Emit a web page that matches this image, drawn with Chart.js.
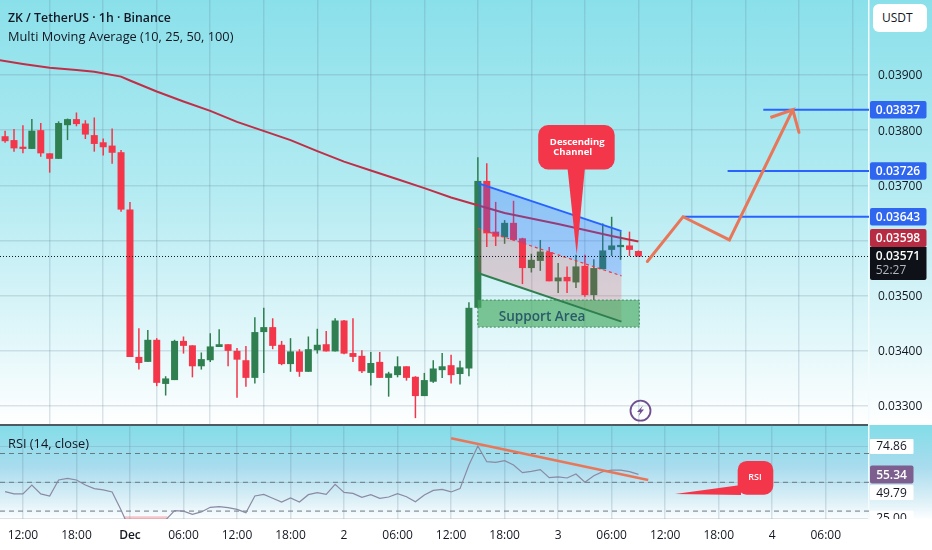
<!DOCTYPE html>
<html>
<head>
<meta charset="utf-8">
<title>ZK / TetherUS</title>
<script src="https://cdn.jsdelivr.net/npm/chart.js@4"></script>
<style>
  html, body { margin: 0; padding: 0; background: #fff; overflow: hidden; }
  #stage { position: relative; width: 932px; height: 550px; font-family: "Open Sans", sans-serif; color: #131722; }
  #stage canvas { position: absolute; left: 0; }
  #pricePane { position: absolute; left: 0; top: 0; width: 932px; height: 425px;
    background: linear-gradient(#8ae0ea 0%, #b4ebf2 45%, #e2f7fa 80%, #fff 100%); }
  #rsiPane { position: absolute; left: 0; top: 425px; width: 932px; height: 94px;
    background: linear-gradient(#82dde8 0%, #a9dcee 45%, #dcf0f7 80%, #fcfeff 100%); }
  #sep { position: absolute; left: 0; top: 424px; width: 869px; height: 2px; background: #4c5a63; }
  .label { position: absolute; white-space: nowrap; }
  #title { left: 8px; top: 9px; font-size: 12.3px; font-weight: 600; }
  #subtitle { left: 8px; top: 27px; font-size: 12.8px; }
  #rsiTitle { left: 8px; top: 434px; font-size: 12.8px; }
  #currency { left: 873px; top: 4px; width: 54px; height: 28px; line-height: 28px; background: #fff;
    border-radius: 6px; font-size: 12px; text-indent: 9px; }
</style>
</head>
<body>
<div id="stage">
  <div id="pricePane"></div>
  <div id="rsiPane"></div>
  <div id="sep"></div>
  <canvas id="priceChart" width="932" height="424" style="top:0"></canvas>
  <canvas id="rsiChart" width="932" height="126" style="top:424px"></canvas>
  <div class="label" id="title">ZK / TetherUS · 1h · Binance</div>
  <div class="label" id="subtitle">Multi Moving Average (10, 25, 50, 100)</div>
  <div class="label" id="rsiTitle">RSI (14, close)</div>
  <div class="label" id="currency">USDT</div>
</div>
<script>
// Hours are counted from Dec 1 00:00
const firstHour = -14;
const tickHours = [-12, -6, 0, 6, 12, 18, 24, 30, 36, 42, 48, 54, 60, 66, 72, 78];
const timeLabels = ['12:00', '18:00', 'Dec', '06:00', '12:00', '18:00', '2', '06:00', '12:00', '18:00', '3', '06:00', '12:00', '18:00', '4', '06:00'];
const priceTicks = [0.033, 0.034, 0.035, 0.036, 0.037, 0.038, 0.039];
const priceTickLabels = ['0.03300', '0.03400', '0.03500', '', '0.03700', '0.03800', '0.03900'];

const opens = [0.03789, 0.03782, 0.03770, 0.03766, 0.03800, 0.03758, 0.03748, 0.03809, 0.03820, 0.03812, 0.03791, 0.03778, 0.03772, 0.03760, 0.03656, 0.03389, 0.03380, 0.03420, 0.03340, 0.03347, 0.03418, 0.03410, 0.03372, 0.03383, 0.03407, 0.03412, 0.03400, 0.03383, 0.03351, 0.03434, 0.03443, 0.03411, 0.03376, 0.03399, 0.03362, 0.03401, 0.03412, 0.03399, 0.03455, 0.03396, 0.03391, 0.03360, 0.03380, 0.03351, 0.03356, 0.03372, 0.03353, 0.03318, 0.03344, 0.03365, 0.03374, 0.03358, 0.03368, 0.03478, 0.03708, 0.03616, 0.03606, 0.03632, 0.03604, 0.03550, 0.03563, 0.03579, 0.03526, 0.03534, 0.03524, 0.03554, 0.03501, 0.03548, 0.03583, 0.03588, 0.03591, 0.03581];
const highs = [0.03799, 0.03802, 0.03809, 0.03820, 0.03813, 0.03758, 0.03816, 0.03821, 0.03832, 0.03818, 0.03823, 0.03785, 0.03803, 0.03764, 0.03670, 0.03441, 0.03438, 0.03423, 0.03354, 0.03420, 0.03426, 0.03410, 0.03397, 0.03432, 0.03439, 0.03412, 0.03405, 0.03409, 0.03461, 0.03478, 0.03459, 0.03418, 0.03423, 0.03403, 0.03426, 0.03440, 0.03436, 0.03459, 0.03456, 0.03459, 0.03401, 0.03398, 0.03398, 0.03362, 0.03390, 0.03372, 0.03354, 0.03360, 0.03383, 0.03396, 0.03393, 0.03382, 0.03488, 0.03751, 0.03740, 0.03670, 0.03637, 0.03672, 0.03605, 0.03576, 0.03601, 0.03588, 0.03559, 0.03553, 0.03574, 0.03574, 0.03566, 0.03631, 0.03643, 0.03616, 0.03616, 0.03582];
const lows = [0.03777, 0.03761, 0.03758, 0.03766, 0.03752, 0.03723, 0.03748, 0.03782, 0.03807, 0.03784, 0.03761, 0.03754, 0.03739, 0.03652, 0.03389, 0.03366, 0.03380, 0.03336, 0.03319, 0.03347, 0.03395, 0.03352, 0.03366, 0.03380, 0.03407, 0.03372, 0.03315, 0.03335, 0.03341, 0.03360, 0.03403, 0.03374, 0.03362, 0.03353, 0.03362, 0.03395, 0.03399, 0.03399, 0.03394, 0.03380, 0.03360, 0.03337, 0.03351, 0.03317, 0.03352, 0.03346, 0.03278, 0.03318, 0.03342, 0.03351, 0.03341, 0.03339, 0.03354, 0.03478, 0.03588, 0.03590, 0.03594, 0.03601, 0.03521, 0.03542, 0.03545, 0.03526, 0.03505, 0.03505, 0.03514, 0.03498, 0.03492, 0.03548, 0.03572, 0.03565, 0.03572, 0.03571];
const closes = [0.03780, 0.03767, 0.03766, 0.03799, 0.03758, 0.03748, 0.03813, 0.03820, 0.03811, 0.03792, 0.03775, 0.03769, 0.03759, 0.03656, 0.03389, 0.03378, 0.03420, 0.03342, 0.03350, 0.03418, 0.03409, 0.03372, 0.03385, 0.03408, 0.03412, 0.03400, 0.03384, 0.03351, 0.03434, 0.03443, 0.03409, 0.03376, 0.03399, 0.03362, 0.03403, 0.03411, 0.03399, 0.03455, 0.03395, 0.03389, 0.03363, 0.03378, 0.03351, 0.03359, 0.03372, 0.03351, 0.03318, 0.03347, 0.03368, 0.03372, 0.03356, 0.03370, 0.03478, 0.03708, 0.03613, 0.03607, 0.03632, 0.03601, 0.03550, 0.03565, 0.03580, 0.03526, 0.03533, 0.03526, 0.03553, 0.03501, 0.03550, 0.03582, 0.03591, 0.03592, 0.03583, 0.03571];

const maHours = [-15, -12, -9, -6, -4, -1, 0, 3, 6, 9, 12, 18, 21, 24, 27, 30, 33, 36, 38.5, 42, 48, 54, 57];
const maValues = [0.03928, 0.03920, 0.03913, 0.03909, 0.03906, 0.03897, 0.03890, 0.03870, 0.03852, 0.03835, 0.03815, 0.03782, 0.03762, 0.03743, 0.03727, 0.03711, 0.03695, 0.03678, 0.03666, 0.03650, 0.03630, 0.03608, 0.03598];

const rsiValues = [43.5, 41.9, 41.9, 48.1, 41.9, 40.5, 51.6, 52.7, 51.6, 48.1, 45.6, 44.7, 43.3, 30.8, 16.9, 14.0, 18.0, 21.0, 23.8, 30.3, 30.0, 27.7, 29.4, 32.6, 33.1, 32.4, 31.2, 28.9, 40.5, 41.6, 38.9, 36.3, 39.1, 36.3, 41.4, 42.8, 41.6, 48.6, 43.0, 42.3, 39.6, 41.4, 38.9, 39.8, 42.1, 40.0, 36.5, 41.2, 44.4, 45.1, 43.3, 45.6, 62.0, 75.2, 64.3, 63.9, 65.0, 62.0, 56.7, 57.6, 58.8, 53.2, 53.7, 53.0, 55.8, 50.0, 54.6, 57.4, 58.5, 58.5, 57.4, 55.5];
const rsiLevels = [70, 50, 30];
const rsiGridTicks = [25, 50, 75];

// Drawn tools on the price pane
const channelHours = [39, 55.1];
const channelTop = [0.03704, 0.03617];
const channelMid = [0.03622, 0.03536];
const channelBottom = [0.03541, 0.03453];
const supportHours = [39, 57.1];
const supportPrices = [0.03492, 0.03443];
const forecastHours = [58, 62, 67.2, 74.3, 71.8, 74.3, 75];
const forecastPrices = [0.03562, 0.03643, 0.03601, 0.03837, 0.03823, 0.03837, 0.03796];
const levelHours = [71, 67, 62];
const levelPrices = [0.03837, 0.03726, 0.03643];
const maLast = 0.03598;
const lastPrice = 0.03571;
const countdown = '52:27';
const rsiTrendHours = [36, 58.1];
const rsiTrendValues = [80.6, 51.6];
const rsiLabels = ['74.86', '49.79', '25.00'];
const rsiLabelValues = [74.86, 49.79, 25];
const rsiLast = 55.34;

const xMin = -14.57;
const xMax = 82.85;
const hours = opens.map((_, i) => firstHour + i);
const green = '#2f7f50';
const red = '#f4364a';
const candleColors = opens.map((o, i) => closes[i] >= o ? green : red);
const axisFont = { family: 'Open Sans', size: 12 };

const pts = (xs, ys) => xs.map((x, i) => ({ x, y: ys[i] }));
const polygon = (xs, upper, lower) => [
    { x: xs[0], y: upper[0] }, { x: xs[1], y: upper[1] },
    { x: xs[1], y: lower[1] }, { x: xs[0], y: lower[0] }, { x: xs[0], y: upper[0] }
];
const lineDs = (data, color, width, order, extra = {}) => ({
    type: 'line', data, borderColor: color, borderWidth: width, order,
    pointRadius: 0, tension: 0, fill: false, ...extra
});

const xScale = (showLabels) => ({
    type: 'linear', min: xMin, max: xMax, offset: false,
    afterBuildTicks: s => { s.ticks = tickHours.map(value => ({ value })); },
    afterFit: s => { s.paddingLeft = 0; s.paddingRight = 0; if (showLabels) s.height = 31; },
    grid: { color: 'rgba(90,120,145,0.2)', lineWidth: 1.5, drawTicks: false },
    border: { display: false },
    ticks: {
        display: showLabels, autoSkip: false, maxRotation: 0, padding: 9, color: '#131722',
        font: c => ({ ...axisFont, weight: c.index === 2 ? '600' : '400' }),
        callback: v => timeLabels[tickHours.indexOf(v)]
    }
});

function roundBox(ctx, x, y, w, h, r, color) {
    ctx.fillStyle = color;
    ctx.beginPath();
    ctx.roundRect(x, y, w, h, r);
    ctx.fill();
}

function tag(ctx, y, h, color, text, textColor) {
    roundBox(ctx, 870, y - h / 2, 56.5, h, 2, color);
    ctx.fillStyle = textColor;
    ctx.font = '600 12px "Open Sans"';
    ctx.textAlign = 'center';
    ctx.textBaseline = 'middle';
    ctx.fillText(text, 898, y + 0.5);
}

// Callouts, price tags and the alert icon on top of the price pane
const priceOverlay = {
    id: 'priceOverlay',
    afterDraw(chart) {
        const { ctx, scales: { x, y } } = chart;
        ctx.save();

        ctx.fillStyle = '#2b5a6a';
        ctx.font = '600 13.6px "Open Sans"';
        ctx.textAlign = 'center';
        ctx.textBaseline = 'middle';
        ctx.fillText('Support Area', x.getPixelForValue(46.2), y.getPixelForValue(0.03462));

        // Descending Channel callout, anchored on its tip
        const tipX = x.getPixelForValue(50.08);
        const tipY = y.getPixelForValue(0.03574);
        ctx.fillStyle = red;
        ctx.beginPath();
        ctx.moveTo(tipX - 9.5, 165);
        ctx.lineTo(tipX, tipY);
        ctx.lineTo(tipX + 8.5, 165);
        ctx.closePath();
        ctx.fill();
        roundBox(ctx, tipX - 38.5, 125, 76.5, 44.5, 10, red);
        ctx.fillStyle = '#fff';
        ctx.font = '700 9.5px "Open Sans"';
        ctx.fillText('Descending', tipX + 0.5, 142);
        ctx.fillText('Channel', tipX - 4, 152);

        // Alert icon
        ctx.strokeStyle = '#6f4f8f';
        ctx.lineWidth = 1.8;
        ctx.beginPath();
        ctx.arc(640.5, 410.7, 10, 0, Math.PI * 2);
        ctx.stroke();
        ctx.fillStyle = '#6f4f8f';
        ctx.beginPath();
        ctx.moveTo(643, 405.5); ctx.lineTo(637, 412); ctx.lineTo(640.2, 412);
        ctx.lineTo(638.5, 416); ctx.lineTo(644, 409.5); ctx.lineTo(640.8, 409.5);
        ctx.closePath();
        ctx.fill();

        // Price tags
        const labels = ['0.03837', '0.03726', '0.03643'];
        levelPrices.forEach((p, i) => tag(ctx, y.getPixelForValue(p), 17.5, '#2f66f0', labels[i], '#fff'));
        tag(ctx, y.getPixelForValue(maLast) - 3.5, 18, '#b72c42', maLast.toFixed(5), '#fff');
        roundBox(ctx, 870, 247, 56.5, 33, [0, 0, 2, 2], '#0f1119');
        ctx.fillStyle = '#fff';
        ctx.font = '600 12px "Open Sans"';
        ctx.fillText(lastPrice.toFixed(5), 898, y.getPixelForValue(lastPrice) + 0.5);
        ctx.fillStyle = '#b4b6bd';
        ctx.font = '12px "Open Sans"';
        ctx.fillText(countdown, 891, 271);
        ctx.restore();
    }
};

// RSI value labels and callout
const rsiOverlay = {
    id: 'rsiOverlay',
    afterDraw(chart) {
        const { ctx, scales: { x, yRsi } } = chart;
        ctx.save();
        ctx.beginPath();
        ctx.rect(0, 0, 932, chart.chartArea.bottom);
        ctx.clip();

        const nudges = [0, 10, 0];
        rsiLabelValues.forEach((v, i) => {
            const yy = yRsi.getPixelForValue(v) + nudges[i];
            roundBox(ctx, 870, yy - 7.5, 43.5, 15, 1, '#fff');
            ctx.fillStyle = '#131722';
            ctx.font = '12px "Open Sans"';
            ctx.textAlign = 'center';
            ctx.textBaseline = 'middle';
            ctx.fillText(rsiLabels[i], 891.5, yy + 0.5);
        });
        const tagY = yRsi.getPixelForValue(rsiLast);
        roundBox(ctx, 870, tagY - 9, 43.5, 18, 2, '#7c5f8e');
        ctx.fillStyle = '#fff';
        ctx.font = '600 12px "Open Sans"';
        ctx.fillText(rsiLast.toFixed(2), 891.5, tagY + 0.5);

        // RSI callout, anchored on its tip
        const tipX = x.getPixelForValue(61.1);
        const tipY = yRsi.getPixelForValue(41.9);
        ctx.fillStyle = red;
        ctx.beginPath();
        ctx.moveTo(tipX, tipY);
        ctx.lineTo(tipX + 66, tipY - 9);
        ctx.lineTo(tipX + 66, tipY + 1);
        ctx.closePath();
        ctx.fill();
        roundBox(ctx, tipX + 62.7, tipY - 33, 35.6, 33.7, 9, red);
        ctx.fillStyle = '#fff';
        ctx.font = '600 9px "Open Sans"';
        ctx.fillText('RSI', tipX + 80, tipY - 17);
        ctx.restore();
    }
};

// Price pane
(() => {
    const ctx = document.getElementById('priceChart').getContext('2d');
    new Chart(ctx, {
        type: 'bar',
        plugins: [priceOverlay],
        data: {
            datasets: [
                { data: hours.map((x, i) => ({ x, y: [lows[i], highs[i]] })), backgroundColor: candleColors, barThickness: 1.5, grouped: false, order: 20, inflateAmount: 0 },
                { data: hours.map((x, i) => ({ x, y: [opens[i], closes[i]] })), backgroundColor: candleColors, barThickness: 7, grouped: false, order: 19, inflateAmount: 0 },
                lineDs(pts(maHours, maValues), '#bf2f48', 2, 18),
                lineDs(polygon(channelHours, channelMid, channelBottom), 'rgba(0,0,0,0)', 0, 17, { fill: 'shape', backgroundColor: 'rgba(242,54,69,0.2)' }),
                lineDs(polygon(channelHours, channelTop, channelMid), 'rgba(0,0,0,0)', 0, 16, { fill: 'shape', backgroundColor: 'rgba(41,98,255,0.28)' }),
                lineDs(pts(channelHours, channelTop), '#2962ff', 2, 15),
                lineDs(pts(channelHours, channelMid), '#f23645', 1.2, 14, { borderDash: [3, 3] }),
                lineDs(polygon(supportHours, [supportPrices[0], supportPrices[0]], [supportPrices[1], supportPrices[1]]), '#3f8a5c', 1, 13, { fill: 'shape', backgroundColor: 'rgba(70,170,95,0.66)', borderDash: [2, 2] }),
                lineDs(pts(channelHours, channelBottom), '#2f7f50', 2, 12),
                lineDs(pts([xMin, xMax], [lastPrice, lastPrice]), '#131722', 1, 11, { borderDash: [1, 2] }),
                ...levelPrices.map((p, i) => lineDs(pts([levelHours[i], xMax], [p, p]), '#2962ff', 2, 10)),
                lineDs(pts(forecastHours, forecastPrices), '#e8775a', 3, 9, { borderCapStyle: 'round', borderJoinStyle: 'miter' })
            ]
        },
        options: {
            responsive: false,
            animation: false,
            layout: { padding: 0 },
            plugins: { legend: { display: false }, tooltip: { enabled: false } },
            scales: {
                x: xScale(false),
                y: {
                    position: 'right', min: 0.032674, max: 0.040359,
                    afterBuildTicks: s => { s.ticks = priceTicks.map(value => ({ value })); },
                    afterFit: s => { s.width = 63; s.paddingTop = 0; s.paddingBottom = 0; },
                    grid: { color: 'rgba(90,120,145,0.2)', lineWidth: 1.5, drawTicks: false },
                    border: { display: true, color: '#f4fbfd', width: 1.5 },
                    ticks: { autoSkip: false, padding: 9, labelOffset: 1, color: '#131722', font: axisFont, callback: v => priceTickLabels[priceTicks.indexOf(v)] }
                }
            }
        }
    });
})();

// RSI pane
(() => {
    const ctx = document.getElementById('rsiChart').getContext('2d');
    new Chart(ctx, {
        type: 'line',
        plugins: [rsiOverlay],
        data: {
            datasets: [
                lineDs(pts([-0.6, 4.2], [25, 25]), 'rgba(242,54,69,0.28)', 4, 6, { yAxisID: 'yRsi' }),
                ...rsiLevels.map(v => lineDs(pts([xMin, xMax], [v, v]), '#6c7880', 1, 5, { borderDash: [5, 4], yAxisID: 'yRsi' })),
                lineDs(pts(hours, rsiValues), '#8a8aa3', 1.2, 4, { yAxisID: 'yRsi' }),
                lineDs(pts(rsiTrendHours, rsiTrendValues), '#e8775a', 2.5, 3, { yAxisID: 'yRsi' })
            ]
        },
        options: {
            responsive: false,
            animation: false,
            layout: { padding: 0 },
            plugins: { legend: { display: false }, tooltip: { enabled: false } },
            scales: {
                x: xScale(true),
                yRsi: {
                    position: 'right', min: 24.5, max: 90.5,
                    afterBuildTicks: s => { s.ticks = rsiGridTicks.map(value => ({ value })); },
                    afterFit: s => { s.width = 63; s.paddingTop = 0; s.paddingBottom = 0; },
                    grid: { color: 'rgba(90,120,145,0.2)', lineWidth: 1, drawTicks: false },
                    border: { display: true, color: '#f4fbfd', width: 1.5 },
                    ticks: { display: false }
                }
            }
        }
    });
})();
</script>
</body>
</html>
